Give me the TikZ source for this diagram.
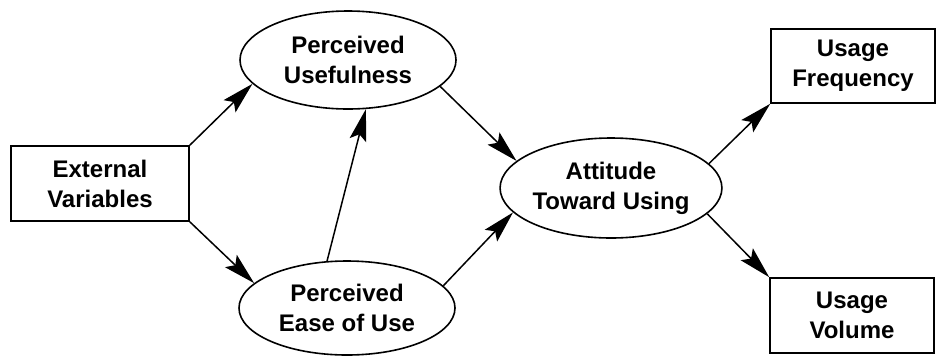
\documentclass[tikz,border=0pt]{standalone}
\usepackage{fontspec}
\setmainfont{Liberation Sans}
\usetikzlibrary{shapes.geometric,arrows.meta}
\begin{document}
\begin{tikzpicture}[x=1pt,y=-1pt,
  every node/.style={font=\bfseries\fontsize{24}{30}\selectfont, align=center, inner sep=0pt, line width=1.6pt},
  oval/.style={draw, ellipse, minimum width=216pt, minimum height=98pt},
  boxnode/.style={draw, rectangle, minimum height=75pt},
  conn/.style={line width=1.5pt, -{Stealth[length=32pt,width=17pt,inset=6pt]}}]
\useasboundingbox (0,0) rectangle (937,357);
\node[boxnode, minimum width=178pt] (ext) at (100,183.5) {External\\Variables};
\node[oval] (pu) at (348,60) {Perceived\\Usefulness};
\node[oval, minimum height=94pt] (peou) at (347,308) {Perceived\\Ease of Use};
\node[oval, minimum width=214pt, minimum height=100pt] (att) at (611,188) {Attitude\\Toward Using};
\node[boxnode, minimum width=164pt, minimum height=74pt] (uf) at (853,66) {Usage\\Frequency};
\node[boxnode, minimum width=164pt] (uv) at (852,315.5) {Usage\\Volume};
\draw[conn] (ext.north east) -- (pu.194.7);
\draw[conn] (ext.south east) -- (peou.165.3);
\draw[conn] (peou.113.5) -- (pu.290.8);
\draw[conn] (pu.344) -- (att.164.5);
\draw[conn] (peou.13.6) -- (att.194.9);
\draw[conn] (att.14.6) -- (uf.south west);
\draw[conn] (att.-15.7) -- (uv.north west);
\end{tikzpicture}
\end{document}
